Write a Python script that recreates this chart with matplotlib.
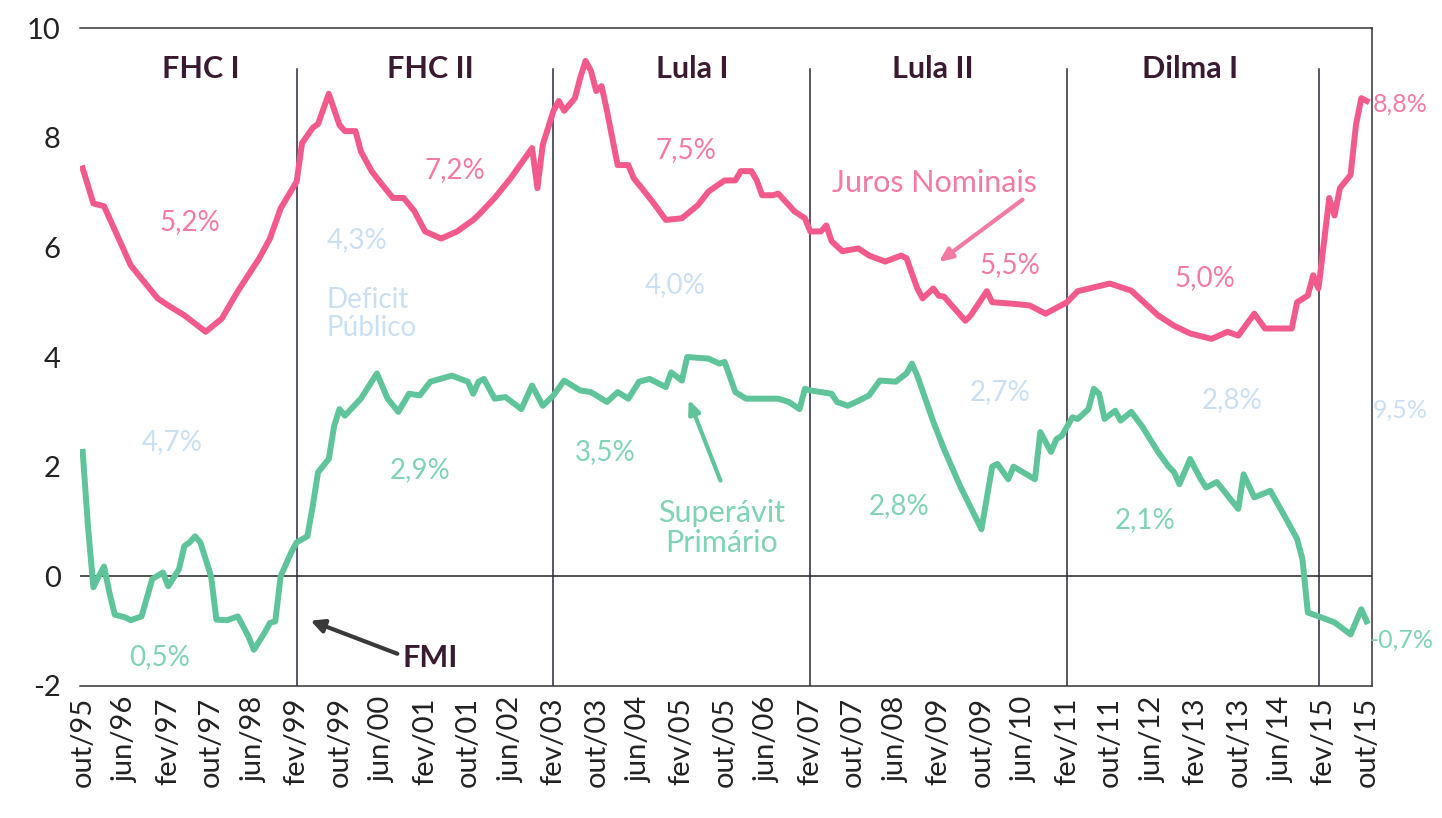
import matplotlib
matplotlib.use("Agg")
import matplotlib.pyplot as plt

plt.rcParams['font.family'] = ['Lato', 'DejaVu Sans']

# ---------------- data ----------------
# month index 0 = out/95 ... 240 = out/15
tick_labels = ["out/95", "jun/96", "fev/97", "out/97", "jun/98", "fev/99", "out/99",
               "jun/00", "fev/01", "out/01", "jun/02", "fev/03", "out/03", "jun/04",
               "fev/05", "out/05", "jun/06", "fev/07", "out/07", "jun/08", "fev/09",
               "out/09", "jun/10", "fev/11", "out/11", "jun/12", "fev/13", "out/13",
               "jun/14", "fev/15", "out/15"]
tick_months = [0, 8, 16, 24, 32, 40, 48, 56, 64, 72, 80, 88, 96, 104, 112, 120, 128,
               136, 144, 152, 160, 168, 176, 184, 192, 200, 208, 216, 224, 232, 240]

juros_m = [0, 2, 4, 7, 9, 14, 16, 19, 23, 26, 29, 33, 35, 37, 40, 41, 43, 44, 46, 48,
           49, 51, 52, 54, 56, 58, 60, 62, 64, 67, 70, 73, 74, 77, 80, 84, 85, 86, 88,
           89, 90, 92, 93, 94, 95, 96, 97, 98, 99, 100, 102, 103, 105, 107, 109, 112,
           115, 117, 120, 122, 123, 125, 126, 127, 129, 130, 132, 133, 135, 136, 138,
           139, 140, 142, 145, 147, 150, 153, 154, 156, 157, 159, 160, 161, 165, 166,
           169, 170, 174, 177, 180, 184, 186, 192, 196, 201, 204, 207, 211, 214, 216,
           219, 221, 226, 227, 229, 230, 231, 233, 234, 235, 237, 238, 239, 240]
juros_v = [7.44, 6.80, 6.75, 6.10, 5.67, 5.07, 4.94, 4.76, 4.46, 4.70, 5.20, 5.80, 6.16,
           6.71, 7.20, 7.90, 8.18, 8.25, 8.80, 8.23, 8.12, 8.12, 7.75, 7.39, 7.14, 6.90,
           6.90, 6.66, 6.29, 6.16, 6.29, 6.50, 6.59, 6.90, 7.26, 7.81, 7.08, 7.87, 8.49,
           8.67, 8.49, 8.72, 9.09, 9.40, 9.22, 8.85, 8.94, 8.49, 7.99, 7.50, 7.50, 7.26,
           7.02, 6.77, 6.50, 6.53, 6.77, 7.02, 7.22, 7.22, 7.39, 7.39, 7.22, 6.95, 6.95,
           6.98, 6.77, 6.66, 6.53, 6.29, 6.29, 6.40, 6.11, 5.93, 5.98, 5.85, 5.74, 5.85,
           5.80, 5.25, 5.07, 5.25, 5.12, 5.10, 4.66, 4.76, 5.20, 5.00, 4.97, 4.94, 4.79,
           5.00, 5.20, 5.34, 5.21, 4.76, 4.57, 4.43, 4.33, 4.46, 4.39, 4.79, 4.52, 4.52,
           5.00, 5.12, 5.49, 5.25, 6.90, 6.58, 7.08, 7.32, 8.23, 8.72, 8.67]

superavit_m = [0, 1, 2, 3, 4, 5, 6, 8, 9, 11, 13, 15, 16, 18, 19, 20, 21, 22, 24, 25,
               27, 29, 31, 32, 34, 35, 36, 37, 39, 40, 42, 43, 44, 46, 47, 48, 49, 52,
               55, 57, 59, 61, 63, 65, 69, 72, 73, 74, 75, 77, 79, 82, 84, 86, 88, 90,
               93, 95, 98, 100, 102, 104, 106, 109, 110, 112, 113, 117, 119, 120, 122,
               124, 127, 130, 132, 134, 135, 136, 140, 141, 143, 145, 147, 149, 152,
               154, 155, 156, 159, 161, 164, 168, 170, 171, 173, 174, 178, 179, 181,
               182, 183, 185, 186, 188, 189, 190, 191, 193, 194, 196, 198, 201, 203,
               204, 205, 207, 209, 210, 212, 216, 217, 219, 222, 225, 227, 228, 229,
               231, 234, 237, 239, 240]
superavit_v = [2.27, 0.90, -0.20, 0.00, 0.18, -0.30, -0.70, -0.75, -0.80, -0.73, -0.05,
               0.07, -0.18, 0.13, 0.55, 0.62, 0.73, 0.62, 0.00, -0.79, -0.80, -0.73,
               -1.10, -1.34, -1.03, -0.85, -0.82, 0.00, 0.44, 0.62, 0.73, 1.28, 1.90,
               2.14, 2.74, 3.05, 2.93, 3.24, 3.70, 3.24, 3.00, 3.33, 3.30, 3.55, 3.66,
               3.55, 3.33, 3.55, 3.60, 3.24, 3.27, 3.05, 3.48, 3.11, 3.30, 3.57, 3.39,
               3.36, 3.18, 3.36, 3.24, 3.55, 3.60, 3.45, 3.72, 3.57, 4.00, 3.97, 3.88,
               3.91, 3.36, 3.24, 3.24, 3.24, 3.18, 3.05, 3.42, 3.39, 3.33, 3.18, 3.11,
               3.20, 3.30, 3.57, 3.55, 3.70, 3.88, 3.66, 2.82, 2.32, 1.65, 0.86, 2.00,
               2.05, 1.77, 2.00, 1.77, 2.63, 2.27, 2.50, 2.56, 2.90, 2.87, 3.05, 3.42,
               3.33, 2.87, 3.02, 2.84, 3.00, 2.74, 2.27, 2.00, 1.90, 1.68, 2.14, 1.77,
               1.62, 1.72, 1.23, 1.86, 1.44, 1.56, 1.04, 0.68, 0.31, -0.66, -0.73,
               -0.84, -1.06, -0.60, -0.82]

mandate_starts = [40, 88, 136, 184, 231]
mandate_names = ["FHC I", "FHC II", "Lula I", "Lula II", "Dilma I"]
mandate_label_x = [22, 65, 114, 159, 207]

juros_labels = ["5,2%", "7,2%", "7,5%", "5,5%", "5,0%", "8,8%"]
juros_label_pos = [(20, 6.46), (69.5, 7.41), (112.7, 7.78), (173.3, 5.68), (209.7, 5.44), (241.2, 8.62)]
deficit_labels = ["4,7%", "4,3%", "4,0%", "2,7%", "2,8%", "9,5%"]
deficit_label_pos = [(16.8, 2.45), (51.2, 6.13), (110.7, 5.31), (171.4, 3.36), (214.8, 3.21), (241.2, 3.03)]
superavit_labels = ["0,5%", "2,9%", "3,5%", "2,8%", "2,1%", "-0,7%"]
superavit_label_pos = [(14.4, -1.47), (63, 1.93), (97.6, 2.26), (152.7, 1.29), (198.5, 1.02), (240.6, -1.17)]

# ---------------- style ----------------
PINK = "#f25a8c"
PINK_TXT = "#f37aa3"
GREEN = "#5fc49a"
GREEN_TXT = "#80d3b4"
BLUE_TXT = "#c9dff2"
DARK = "#3a1a30"
LINE = "#2c2640"

fig = plt.figure(figsize=(14.42, 8.18), dpi=100)
ax = fig.add_axes([80 / 1442, 132 / 818, (1372 - 80) / 1442, (686 - 28) / 818])

ax.plot(juros_m, juros_v, color=PINK, lw=4.3, solid_joinstyle="round", zorder=3)
ax.plot(superavit_m, superavit_v, color=GREEN, lw=4.3, solid_joinstyle="round", zorder=3)

ax.set_xlim(-0.5, 241)
ax.set_ylim(-2, 10)
ax.set_yticks(range(-2, 11, 2))
ax.set_yticklabels([str(v) for v in range(-2, 11, 2)], fontsize=21, color="#222222")
ax.set_xticks(tick_months)
ax.set_xticklabels(tick_labels, rotation=90, fontsize=21, color="#222222")
ax.tick_params(axis="both", length=0, pad=8)
ax.tick_params(axis="y", pad=14)

for s in ["top", "right", "bottom"]:
    ax.spines[s].set_color("#333333")
    ax.spines[s].set_linewidth(1.1)
ax.spines["left"].set_visible(False)

ax.axhline(0, color="#222222", lw=1.1, zorder=2)
for m in mandate_starts:
    ax.plot([m, m], [-2, 9.25], color=LINE, lw=1.1, zorder=2)

for name, x in zip(mandate_names, mandate_label_x):
    ax.text(x, 9.25, name, ha="center", va="center", fontsize=22, fontweight="bold", color=DARK)


def put_labels(labels, positions, color):
    for t, (x, y) in zip(labels, positions):
        if x > 240:
            ax.text(x, y, t, ha="left", va="center", fontsize=18, color=color, clip_on=False)
        else:
            ax.text(x, y, t, ha="center", va="center", fontsize=20, color=color)


put_labels(juros_labels, juros_label_pos, PINK_TXT)
put_labels(deficit_labels, deficit_label_pos, BLUE_TXT)
put_labels(superavit_labels, superavit_label_pos, GREEN_TXT)

ax.text(45.5, 4.78, "Deficit\nPúblico", ha="left", va="center", fontsize=20,
        color=BLUE_TXT, linespacing=1.1)
ax.text(159.3, 7.17, "Juros Nominais", ha="center", va="center", fontsize=22, color=PINK_TXT)
ax.text(119.4, 0.88, "Superávit\nPrimário", ha="center", va="center", fontsize=22,
        color=GREEN_TXT, linespacing=1.1)
ax.text(64.9, -1.49, "FMI", ha="center", va="center", fontsize=22, fontweight="bold", color=DARK)

ax.annotate("", xy=(42.1, -0.79), xytext=(59.3, -1.43),
            arrowprops=dict(arrowstyle="-|>,head_length=0.8,head_width=0.4", color="#3a3a3a", lw=3))
ax.annotate("", xy=(159.6, 5.7), xytext=(176.1, 6.9),
            arrowprops=dict(arrowstyle="-|>,head_length=0.8,head_width=0.35", color=PINK_TXT, lw=3))
ax.annotate("", xy=(113.1, 3.27), xytext=(119.4, 1.7),
            arrowprops=dict(arrowstyle="-|>,head_length=0.8,head_width=0.35", color=GREEN, lw=3))

fig.savefig("out.png", dpi=100, facecolor="white")
